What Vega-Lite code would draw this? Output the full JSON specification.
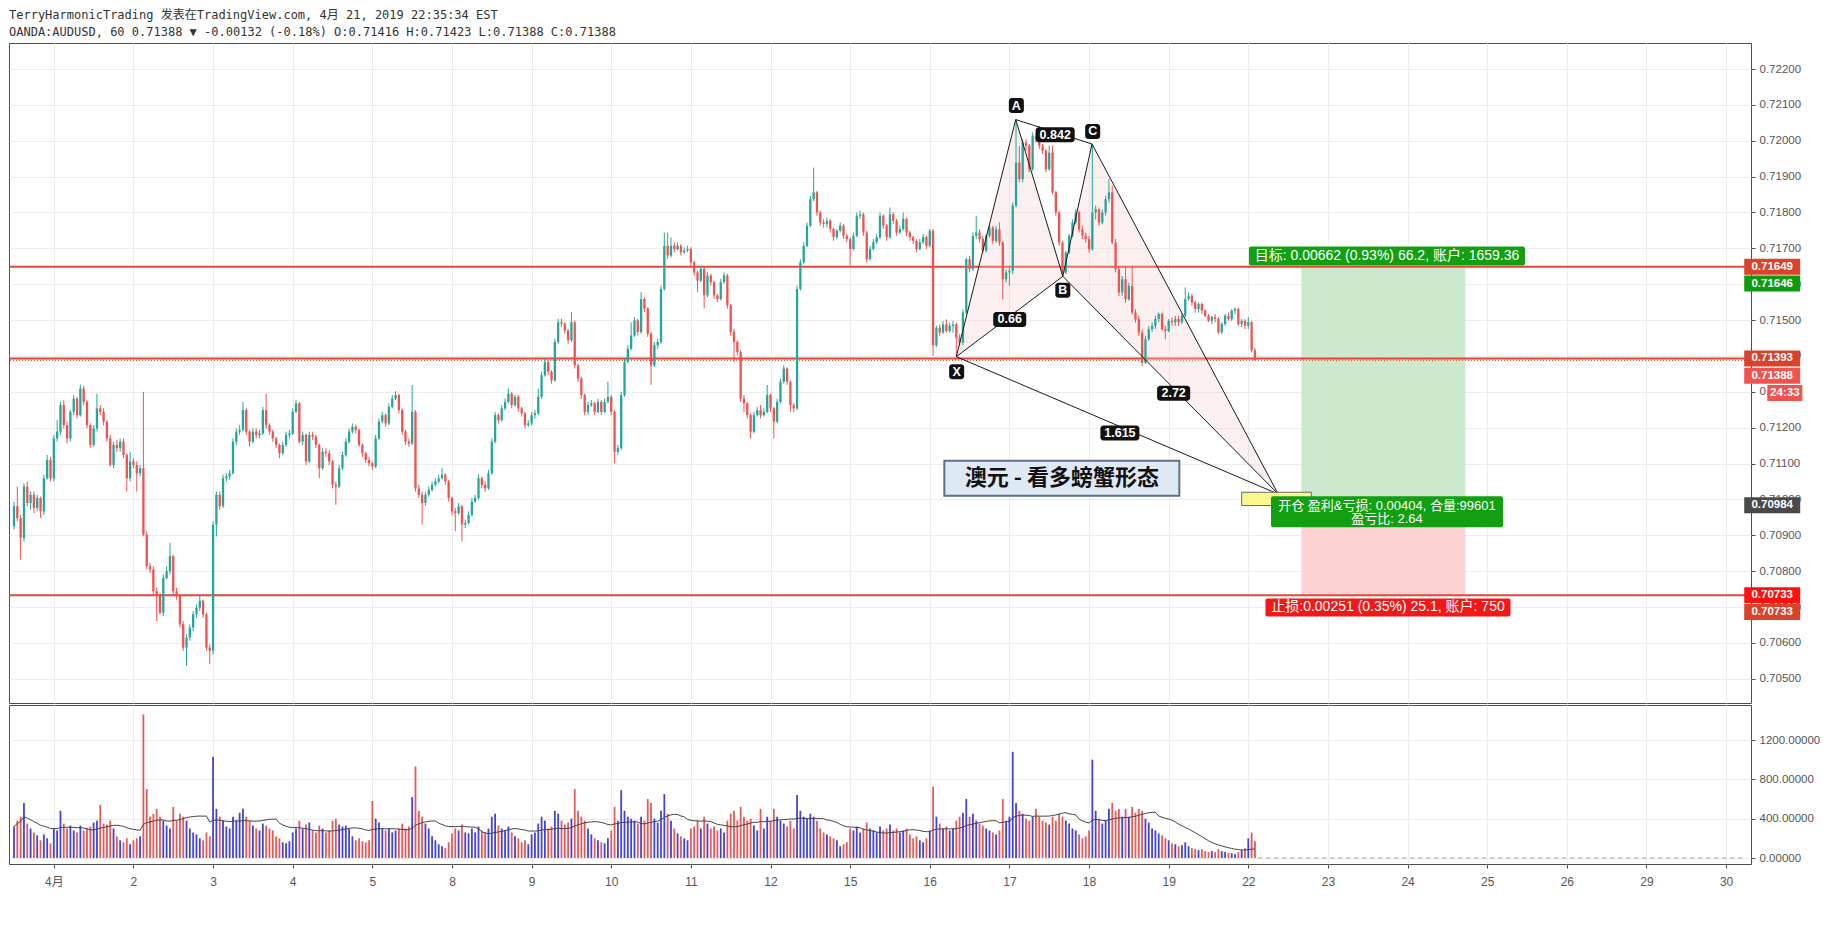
{
"$schema":"https://vega.github.io/schema/vega-lite/v6.json",
"background":"white",
"padding":{"left":7,"top":8,"right":0,"bottom":0},
"title":{"text":"TerryHarmonicTrading 发表在TradingView.com, 4月 21, 2019 22:35:34 EST","subtitle":"OANDA:AUDUSD, 60 0.71388 ▼ -0.00132 (-0.18%) O:0.71416 H:0.71423 L:0.71388 C:0.71388","anchor":"start","frame":"group","font":"DejaVu Sans Mono, Noto Sans CJK SC","fontSize":12,"fontWeight":"normal","color":"#333333","subtitleFont":"DejaVu Sans Mono, Noto Sans CJK SC","subtitleFontSize":12,"subtitleColor":"#333333","subtitlePadding":5,"offset":4},
"config":{"view":{"stroke":"#4d4d4d","strokeWidth":1},"axis":{"labelFont":"Liberation Sans","labelColor":"#555555","labelFontSize":11.5,"gridColor":"#ececec","tickColor":"#4d4d4d","domainColor":"#4d4d4d","labelOverlap":false}},
"datasets":{"candles":[
{"i":0,"o":0.70925,"h":0.70994,"l":0.70916,"c":0.70981,"v":320},
{"i":1,"o":0.70981,"h":0.71036,"l":0.70939,"c":0.70948,"v":380},
{"i":2,"o":0.70948,"h":0.70957,"l":0.70832,"c":0.70893,"v":420},
{"i":3,"o":0.70893,"h":0.71045,"l":0.70883,"c":0.71036,"v":560},
{"i":4,"o":0.71036,"h":0.71050,"l":0.70981,"c":0.70990,"v":350},
{"i":5,"o":0.70990,"h":0.71022,"l":0.70971,"c":0.71013,"v":300},
{"i":6,"o":0.71013,"h":0.71022,"l":0.70962,"c":0.70976,"v":260},
{"i":7,"o":0.70976,"h":0.71013,"l":0.70967,"c":0.71004,"v":230},
{"i":8,"o":0.71004,"h":0.71008,"l":0.70948,"c":0.70967,"v":180},
{"i":9,"o":0.70967,"h":0.71069,"l":0.70957,"c":0.71059,"v":240},
{"i":10,"o":0.71059,"h":0.71124,"l":0.71055,"c":0.71110,"v":200},
{"i":11,"o":0.71110,"h":0.71119,"l":0.71050,"c":0.71059,"v":150},
{"i":12,"o":0.71059,"h":0.71180,"l":0.71050,"c":0.71170,"v":300},
{"i":13,"o":0.71170,"h":0.71221,"l":0.71161,"c":0.71189,"v":280},
{"i":14,"o":0.71189,"h":0.71272,"l":0.71180,"c":0.71263,"v":480},
{"i":15,"o":0.71263,"h":0.71277,"l":0.71198,"c":0.71207,"v":350},
{"i":16,"o":0.71207,"h":0.71217,"l":0.71156,"c":0.71170,"v":300},
{"i":17,"o":0.71170,"h":0.71249,"l":0.71161,"c":0.71244,"v":330},
{"i":18,"o":0.71244,"h":0.71291,"l":0.71235,"c":0.71281,"v":280},
{"i":19,"o":0.71281,"h":0.71286,"l":0.71226,"c":0.71235,"v":260},
{"i":20,"o":0.71235,"h":0.71320,"l":0.71231,"c":0.71309,"v":330},
{"i":21,"o":0.71309,"h":0.71317,"l":0.71263,"c":0.71272,"v":280},
{"i":22,"o":0.71272,"h":0.71277,"l":0.71198,"c":0.71207,"v":300},
{"i":23,"o":0.71207,"h":0.71212,"l":0.71143,"c":0.71152,"v":320},
{"i":24,"o":0.71152,"h":0.71207,"l":0.71147,"c":0.71198,"v":360},
{"i":25,"o":0.71198,"h":0.71295,"l":0.71189,"c":0.71254,"v":380},
{"i":26,"o":0.71254,"h":0.71263,"l":0.71235,"c":0.71244,"v":540},
{"i":27,"o":0.71244,"h":0.71254,"l":0.71207,"c":0.71217,"v":350},
{"i":28,"o":0.71217,"h":0.71221,"l":0.71161,"c":0.71170,"v":340},
{"i":29,"o":0.71170,"h":0.71180,"l":0.71092,"c":0.71096,"v":380},
{"i":30,"o":0.71096,"h":0.71161,"l":0.71087,"c":0.71152,"v":300},
{"i":31,"o":0.71152,"h":0.71166,"l":0.71133,"c":0.71143,"v":220},
{"i":32,"o":0.71143,"h":0.71170,"l":0.71133,"c":0.71161,"v":180},
{"i":33,"o":0.71161,"h":0.71170,"l":0.71115,"c":0.71124,"v":160},
{"i":34,"o":0.71124,"h":0.71129,"l":0.71022,"c":0.71059,"v":200},
{"i":35,"o":0.71059,"h":0.71133,"l":0.71050,"c":0.71106,"v":140},
{"i":36,"o":0.71106,"h":0.71115,"l":0.71087,"c":0.71096,"v":180},
{"i":37,"o":0.71096,"h":0.71106,"l":0.71022,"c":0.71073,"v":200},
{"i":38,"o":0.71073,"h":0.71096,"l":0.71064,"c":0.71087,"v":220},
{"i":39,"o":0.71087,"h":0.71300,"l":0.70897,"c":0.70902,"v":1460},
{"i":40,"o":0.70902,"h":0.70911,"l":0.70805,"c":0.70814,"v":700},
{"i":41,"o":0.70814,"h":0.70823,"l":0.70795,"c":0.70805,"v":420},
{"i":42,"o":0.70805,"h":0.70814,"l":0.70735,"c":0.70744,"v":450},
{"i":43,"o":0.70744,"h":0.70754,"l":0.70661,"c":0.70731,"v":500},
{"i":44,"o":0.70731,"h":0.70740,"l":0.70680,"c":0.70684,"v":420},
{"i":45,"o":0.70684,"h":0.70791,"l":0.70675,"c":0.70781,"v":380},
{"i":46,"o":0.70781,"h":0.70814,"l":0.70777,"c":0.70800,"v":330},
{"i":47,"o":0.70800,"h":0.70879,"l":0.70791,"c":0.70842,"v":300},
{"i":48,"o":0.70842,"h":0.70846,"l":0.70735,"c":0.70744,"v":520},
{"i":49,"o":0.70744,"h":0.70754,"l":0.70721,"c":0.70731,"v":380},
{"i":50,"o":0.70731,"h":0.70735,"l":0.70643,"c":0.70652,"v":450},
{"i":51,"o":0.70652,"h":0.70661,"l":0.70578,"c":0.70587,"v":420},
{"i":52,"o":0.70587,"h":0.70624,"l":0.70536,"c":0.70615,"v":380},
{"i":53,"o":0.70615,"h":0.70652,"l":0.70606,"c":0.70643,"v":300},
{"i":54,"o":0.70643,"h":0.70689,"l":0.70633,"c":0.70680,"v":260},
{"i":55,"o":0.70680,"h":0.70707,"l":0.70670,"c":0.70698,"v":240},
{"i":56,"o":0.70698,"h":0.70735,"l":0.70689,"c":0.70717,"v":200},
{"i":57,"o":0.70717,"h":0.70721,"l":0.70670,"c":0.70680,"v":180},
{"i":58,"o":0.70680,"h":0.70684,"l":0.70578,"c":0.70587,"v":260},
{"i":59,"o":0.70587,"h":0.70596,"l":0.70541,"c":0.70578,"v":220},
{"i":60,"o":0.70578,"h":0.70939,"l":0.70568,"c":0.70930,"v":1030},
{"i":61,"o":0.70930,"h":0.71022,"l":0.70897,"c":0.71013,"v":500},
{"i":62,"o":0.71013,"h":0.71022,"l":0.70971,"c":0.70981,"v":420},
{"i":63,"o":0.70981,"h":0.71069,"l":0.70976,"c":0.71059,"v":380},
{"i":64,"o":0.71059,"h":0.71073,"l":0.71050,"c":0.71064,"v":320},
{"i":65,"o":0.71064,"h":0.71082,"l":0.71055,"c":0.71073,"v":300},
{"i":66,"o":0.71073,"h":0.71170,"l":0.71069,"c":0.71161,"v":420},
{"i":67,"o":0.71161,"h":0.71198,"l":0.71152,"c":0.71189,"v":380},
{"i":68,"o":0.71189,"h":0.71207,"l":0.71180,"c":0.71194,"v":460},
{"i":69,"o":0.71194,"h":0.71272,"l":0.71189,"c":0.71249,"v":500},
{"i":70,"o":0.71249,"h":0.71254,"l":0.71180,"c":0.71189,"v":420},
{"i":71,"o":0.71189,"h":0.71194,"l":0.71147,"c":0.71161,"v":380},
{"i":72,"o":0.71161,"h":0.71198,"l":0.71156,"c":0.71189,"v":330},
{"i":73,"o":0.71189,"h":0.71198,"l":0.71170,"c":0.71180,"v":300},
{"i":74,"o":0.71180,"h":0.71194,"l":0.71170,"c":0.71184,"v":280},
{"i":75,"o":0.71184,"h":0.71258,"l":0.71180,"c":0.71249,"v":350},
{"i":76,"o":0.71249,"h":0.71295,"l":0.71198,"c":0.71207,"v":330},
{"i":77,"o":0.71207,"h":0.71212,"l":0.71180,"c":0.71189,"v":300},
{"i":78,"o":0.71189,"h":0.71194,"l":0.71161,"c":0.71170,"v":280},
{"i":79,"o":0.71170,"h":0.71175,"l":0.71143,"c":0.71152,"v":220},
{"i":80,"o":0.71152,"h":0.71156,"l":0.71115,"c":0.71129,"v":200},
{"i":81,"o":0.71129,"h":0.71161,"l":0.71124,"c":0.71152,"v":160},
{"i":82,"o":0.71152,"h":0.71189,"l":0.71147,"c":0.71180,"v":150},
{"i":83,"o":0.71180,"h":0.71194,"l":0.71170,"c":0.71184,"v":170},
{"i":84,"o":0.71184,"h":0.71254,"l":0.71180,"c":0.71244,"v":260},
{"i":85,"o":0.71244,"h":0.71277,"l":0.71240,"c":0.71268,"v":300},
{"i":86,"o":0.71268,"h":0.71272,"l":0.71156,"c":0.71161,"v":380},
{"i":87,"o":0.71161,"h":0.71189,"l":0.71152,"c":0.71180,"v":300},
{"i":88,"o":0.71180,"h":0.71184,"l":0.71096,"c":0.71106,"v":340},
{"i":89,"o":0.71106,"h":0.71189,"l":0.71101,"c":0.71180,"v":360},
{"i":90,"o":0.71180,"h":0.71189,"l":0.71166,"c":0.71175,"v":280},
{"i":91,"o":0.71175,"h":0.71180,"l":0.71143,"c":0.71152,"v":260},
{"i":92,"o":0.71152,"h":0.71156,"l":0.71059,"c":0.71087,"v":330},
{"i":93,"o":0.71087,"h":0.71143,"l":0.71082,"c":0.71133,"v":300},
{"i":94,"o":0.71133,"h":0.71143,"l":0.71119,"c":0.71129,"v":260},
{"i":95,"o":0.71129,"h":0.71138,"l":0.71096,"c":0.71106,"v":280},
{"i":96,"o":0.71106,"h":0.71110,"l":0.71031,"c":0.71041,"v":380},
{"i":97,"o":0.71041,"h":0.71050,"l":0.70985,"c":0.71036,"v":400},
{"i":98,"o":0.71036,"h":0.71096,"l":0.71031,"c":0.71087,"v":340},
{"i":99,"o":0.71087,"h":0.71133,"l":0.71082,"c":0.71124,"v":320},
{"i":100,"o":0.71124,"h":0.71170,"l":0.71119,"c":0.71161,"v":330},
{"i":101,"o":0.71161,"h":0.71198,"l":0.71156,"c":0.71189,"v":300},
{"i":102,"o":0.71189,"h":0.71212,"l":0.71184,"c":0.71203,"v":220},
{"i":103,"o":0.71203,"h":0.71209,"l":0.71184,"c":0.71194,"v":180},
{"i":104,"o":0.71194,"h":0.71198,"l":0.71147,"c":0.71152,"v":200},
{"i":105,"o":0.71152,"h":0.71156,"l":0.71119,"c":0.71129,"v":170},
{"i":106,"o":0.71129,"h":0.71133,"l":0.71101,"c":0.71110,"v":160},
{"i":107,"o":0.71110,"h":0.71119,"l":0.71092,"c":0.71101,"v":180},
{"i":108,"o":0.71101,"h":0.71106,"l":0.71082,"c":0.71092,"v":580},
{"i":109,"o":0.71092,"h":0.71180,"l":0.71087,"c":0.71170,"v":400},
{"i":110,"o":0.71170,"h":0.71226,"l":0.71166,"c":0.71217,"v":360},
{"i":111,"o":0.71217,"h":0.71244,"l":0.71212,"c":0.71235,"v":300},
{"i":112,"o":0.71235,"h":0.71240,"l":0.71203,"c":0.71212,"v":280},
{"i":113,"o":0.71212,"h":0.71268,"l":0.71207,"c":0.71258,"v":300},
{"i":114,"o":0.71258,"h":0.71291,"l":0.71254,"c":0.71281,"v":260},
{"i":115,"o":0.71281,"h":0.71302,"l":0.71277,"c":0.71291,"v":280},
{"i":116,"o":0.71291,"h":0.71295,"l":0.71240,"c":0.71249,"v":300},
{"i":117,"o":0.71249,"h":0.71254,"l":0.71180,"c":0.71189,"v":350},
{"i":118,"o":0.71189,"h":0.71194,"l":0.71152,"c":0.71161,"v":300},
{"i":119,"o":0.71161,"h":0.71170,"l":0.71147,"c":0.71156,"v":320},
{"i":120,"o":0.71156,"h":0.71319,"l":0.71152,"c":0.71244,"v":620},
{"i":121,"o":0.71244,"h":0.71249,"l":0.71022,"c":0.71031,"v":930},
{"i":122,"o":0.71031,"h":0.71041,"l":0.71004,"c":0.71013,"v":480},
{"i":123,"o":0.71013,"h":0.71022,"l":0.70930,"c":0.70990,"v":420},
{"i":124,"o":0.70990,"h":0.71022,"l":0.70981,"c":0.71013,"v":350},
{"i":125,"o":0.71013,"h":0.71036,"l":0.71008,"c":0.71027,"v":300},
{"i":126,"o":0.71027,"h":0.71050,"l":0.71022,"c":0.71041,"v":220},
{"i":127,"o":0.71041,"h":0.71059,"l":0.71036,"c":0.71050,"v":180},
{"i":128,"o":0.71050,"h":0.71069,"l":0.71045,"c":0.71059,"v":140},
{"i":129,"o":0.71059,"h":0.71087,"l":0.71055,"c":0.71069,"v":120},
{"i":130,"o":0.71069,"h":0.71073,"l":0.71041,"c":0.71050,"v":100},
{"i":131,"o":0.71050,"h":0.71055,"l":0.70994,"c":0.71004,"v":160},
{"i":132,"o":0.71004,"h":0.71008,"l":0.70957,"c":0.70967,"v":250},
{"i":133,"o":0.70967,"h":0.70976,"l":0.70911,"c":0.70962,"v":300},
{"i":134,"o":0.70962,"h":0.70990,"l":0.70957,"c":0.70981,"v":280},
{"i":135,"o":0.70981,"h":0.70985,"l":0.70883,"c":0.70930,"v":340},
{"i":136,"o":0.70930,"h":0.70944,"l":0.70920,"c":0.70934,"v":260},
{"i":137,"o":0.70934,"h":0.70967,"l":0.70930,"c":0.70957,"v":250},
{"i":138,"o":0.70957,"h":0.71004,"l":0.70953,"c":0.70994,"v":300},
{"i":139,"o":0.70994,"h":0.71013,"l":0.70990,"c":0.71004,"v":260},
{"i":140,"o":0.71004,"h":0.71069,"l":0.70999,"c":0.71059,"v":320},
{"i":141,"o":0.71059,"h":0.71064,"l":0.71031,"c":0.71041,"v":280},
{"i":142,"o":0.71041,"h":0.71050,"l":0.71022,"c":0.71031,"v":260},
{"i":143,"o":0.71031,"h":0.71082,"l":0.71027,"c":0.71073,"v":300},
{"i":144,"o":0.71073,"h":0.71170,"l":0.71069,"c":0.71161,"v":420},
{"i":145,"o":0.71161,"h":0.71244,"l":0.71156,"c":0.71235,"v":450},
{"i":146,"o":0.71235,"h":0.71240,"l":0.71212,"c":0.71221,"v":330},
{"i":147,"o":0.71221,"h":0.71263,"l":0.71217,"c":0.71254,"v":300},
{"i":148,"o":0.71254,"h":0.71281,"l":0.71249,"c":0.71272,"v":280},
{"i":149,"o":0.71272,"h":0.71309,"l":0.71268,"c":0.71295,"v":320},
{"i":150,"o":0.71295,"h":0.71300,"l":0.71254,"c":0.71263,"v":260},
{"i":151,"o":0.71263,"h":0.71291,"l":0.71258,"c":0.71286,"v":220},
{"i":152,"o":0.71286,"h":0.71291,"l":0.71244,"c":0.71254,"v":200},
{"i":153,"o":0.71254,"h":0.71258,"l":0.71231,"c":0.71240,"v":160},
{"i":154,"o":0.71240,"h":0.71244,"l":0.71198,"c":0.71207,"v":180},
{"i":155,"o":0.71207,"h":0.71221,"l":0.71203,"c":0.71212,"v":140},
{"i":156,"o":0.71212,"h":0.71244,"l":0.71207,"c":0.71235,"v":240},
{"i":157,"o":0.71235,"h":0.71249,"l":0.71226,"c":0.71240,"v":260},
{"i":158,"o":0.71240,"h":0.71309,"l":0.71235,"c":0.71286,"v":350},
{"i":159,"o":0.71286,"h":0.71356,"l":0.71281,"c":0.71346,"v":420},
{"i":160,"o":0.71346,"h":0.71393,"l":0.71342,"c":0.71383,"v":380},
{"i":161,"o":0.71383,"h":0.71388,"l":0.71346,"c":0.71356,"v":300},
{"i":162,"o":0.71356,"h":0.71360,"l":0.71323,"c":0.71332,"v":320},
{"i":163,"o":0.71332,"h":0.71448,"l":0.71328,"c":0.71439,"v":480},
{"i":164,"o":0.71439,"h":0.71504,"l":0.71434,"c":0.71494,"v":450},
{"i":165,"o":0.71494,"h":0.71504,"l":0.71481,"c":0.71490,"v":380},
{"i":166,"o":0.71490,"h":0.71494,"l":0.71462,"c":0.71471,"v":340},
{"i":167,"o":0.71471,"h":0.71476,"l":0.71434,"c":0.71444,"v":360},
{"i":168,"o":0.71444,"h":0.71522,"l":0.71439,"c":0.71494,"v":400},
{"i":169,"o":0.71494,"h":0.71499,"l":0.71365,"c":0.71374,"v":700},
{"i":170,"o":0.71374,"h":0.71379,"l":0.71328,"c":0.71337,"v":480},
{"i":171,"o":0.71337,"h":0.71342,"l":0.71281,"c":0.71291,"v":420},
{"i":172,"o":0.71291,"h":0.71295,"l":0.71235,"c":0.71244,"v":380},
{"i":173,"o":0.71244,"h":0.71272,"l":0.71235,"c":0.71263,"v":300},
{"i":174,"o":0.71263,"h":0.71277,"l":0.71258,"c":0.71268,"v":240},
{"i":175,"o":0.71268,"h":0.71272,"l":0.71235,"c":0.71244,"v":200},
{"i":176,"o":0.71244,"h":0.71281,"l":0.71240,"c":0.71272,"v":180},
{"i":177,"o":0.71272,"h":0.71277,"l":0.71235,"c":0.71244,"v":160},
{"i":178,"o":0.71244,"h":0.71281,"l":0.71240,"c":0.71272,"v":150},
{"i":179,"o":0.71272,"h":0.71328,"l":0.71268,"c":0.71286,"v":200},
{"i":180,"o":0.71286,"h":0.71291,"l":0.71235,"c":0.71244,"v":280},
{"i":181,"o":0.71244,"h":0.71249,"l":0.71101,"c":0.71133,"v":520},
{"i":182,"o":0.71133,"h":0.71152,"l":0.71124,"c":0.71143,"v":380},
{"i":183,"o":0.71143,"h":0.71300,"l":0.71138,"c":0.71291,"v":690},
{"i":184,"o":0.71291,"h":0.71393,"l":0.71286,"c":0.71383,"v":480},
{"i":185,"o":0.71383,"h":0.71430,"l":0.71379,"c":0.71420,"v":420},
{"i":186,"o":0.71420,"h":0.71494,"l":0.71416,"c":0.71457,"v":400},
{"i":187,"o":0.71457,"h":0.71508,"l":0.71453,"c":0.71499,"v":380},
{"i":188,"o":0.71499,"h":0.71504,"l":0.71457,"c":0.71467,"v":350},
{"i":189,"o":0.71467,"h":0.71578,"l":0.71462,"c":0.71559,"v":420},
{"i":190,"o":0.71559,"h":0.71564,"l":0.71522,"c":0.71532,"v":380},
{"i":191,"o":0.71532,"h":0.71536,"l":0.71453,"c":0.71462,"v":600},
{"i":192,"o":0.71462,"h":0.71467,"l":0.71319,"c":0.71374,"v":560},
{"i":193,"o":0.71374,"h":0.71439,"l":0.71369,"c":0.71430,"v":400},
{"i":194,"o":0.71430,"h":0.71448,"l":0.71420,"c":0.71439,"v":360},
{"i":195,"o":0.71439,"h":0.71596,"l":0.71434,"c":0.71587,"v":480},
{"i":196,"o":0.71587,"h":0.71744,"l":0.71582,"c":0.71707,"v":650},
{"i":197,"o":0.71707,"h":0.71744,"l":0.71670,"c":0.71680,"v":450},
{"i":198,"o":0.71680,"h":0.71731,"l":0.71675,"c":0.71707,"v":380},
{"i":199,"o":0.71707,"h":0.71717,"l":0.71689,"c":0.71698,"v":300},
{"i":200,"o":0.71698,"h":0.71717,"l":0.71694,"c":0.71707,"v":250},
{"i":201,"o":0.71707,"h":0.71712,"l":0.71680,"c":0.71689,"v":220},
{"i":202,"o":0.71689,"h":0.71703,"l":0.71684,"c":0.71694,"v":200},
{"i":203,"o":0.71694,"h":0.71707,"l":0.71689,"c":0.71698,"v":180},
{"i":204,"o":0.71698,"h":0.71703,"l":0.71652,"c":0.71661,"v":300},
{"i":205,"o":0.71661,"h":0.71666,"l":0.71624,"c":0.71633,"v":320},
{"i":206,"o":0.71633,"h":0.71638,"l":0.71578,"c":0.71610,"v":380},
{"i":207,"o":0.71610,"h":0.71652,"l":0.71606,"c":0.71643,"v":300},
{"i":208,"o":0.71643,"h":0.71647,"l":0.71532,"c":0.71569,"v":420},
{"i":209,"o":0.71569,"h":0.71633,"l":0.71564,"c":0.71624,"v":350},
{"i":210,"o":0.71624,"h":0.71629,"l":0.71596,"c":0.71606,"v":300},
{"i":211,"o":0.71606,"h":0.71610,"l":0.71559,"c":0.71569,"v":320},
{"i":212,"o":0.71569,"h":0.71573,"l":0.71550,"c":0.71559,"v":280},
{"i":213,"o":0.71559,"h":0.71615,"l":0.71555,"c":0.71606,"v":300},
{"i":214,"o":0.71606,"h":0.71633,"l":0.71601,"c":0.71624,"v":260},
{"i":215,"o":0.71624,"h":0.71629,"l":0.71532,"c":0.71541,"v":380},
{"i":216,"o":0.71541,"h":0.71545,"l":0.71457,"c":0.71467,"v":450},
{"i":217,"o":0.71467,"h":0.71476,"l":0.71383,"c":0.71439,"v":480},
{"i":218,"o":0.71439,"h":0.71444,"l":0.71402,"c":0.71411,"v":380},
{"i":219,"o":0.71411,"h":0.71416,"l":0.71272,"c":0.71281,"v":520},
{"i":220,"o":0.71281,"h":0.71291,"l":0.71244,"c":0.71268,"v":420},
{"i":221,"o":0.71268,"h":0.71272,"l":0.71226,"c":0.71235,"v":380},
{"i":222,"o":0.71235,"h":0.71240,"l":0.71170,"c":0.71189,"v":400},
{"i":223,"o":0.71189,"h":0.71244,"l":0.71184,"c":0.71235,"v":330},
{"i":224,"o":0.71235,"h":0.71258,"l":0.71231,"c":0.71249,"v":280},
{"i":225,"o":0.71249,"h":0.71263,"l":0.71226,"c":0.71235,"v":500},
{"i":226,"o":0.71235,"h":0.71254,"l":0.71231,"c":0.71244,"v":300},
{"i":227,"o":0.71244,"h":0.71319,"l":0.71240,"c":0.71291,"v":420},
{"i":228,"o":0.71291,"h":0.71295,"l":0.71244,"c":0.71254,"v":380},
{"i":229,"o":0.71254,"h":0.71258,"l":0.71170,"c":0.71217,"v":500},
{"i":230,"o":0.71217,"h":0.71281,"l":0.71212,"c":0.71272,"v":420},
{"i":231,"o":0.71272,"h":0.71337,"l":0.71268,"c":0.71328,"v":380},
{"i":232,"o":0.71328,"h":0.71374,"l":0.71323,"c":0.71365,"v":350},
{"i":233,"o":0.71365,"h":0.71369,"l":0.71319,"c":0.71328,"v":320},
{"i":234,"o":0.71328,"h":0.71332,"l":0.71244,"c":0.71263,"v":380},
{"i":235,"o":0.71263,"h":0.71268,"l":0.71244,"c":0.71254,"v":300},
{"i":236,"o":0.71254,"h":0.71596,"l":0.71249,"c":0.71587,"v":640},
{"i":237,"o":0.71587,"h":0.71670,"l":0.71582,"c":0.71661,"v":480},
{"i":238,"o":0.71661,"h":0.71717,"l":0.71657,"c":0.71707,"v":420},
{"i":239,"o":0.71707,"h":0.71772,"l":0.71703,"c":0.71763,"v":400},
{"i":240,"o":0.71763,"h":0.71846,"l":0.71758,"c":0.71837,"v":450},
{"i":241,"o":0.71837,"h":0.71925,"l":0.71832,"c":0.71856,"v":420},
{"i":242,"o":0.71856,"h":0.71860,"l":0.71791,"c":0.71800,"v":380},
{"i":243,"o":0.71800,"h":0.71805,"l":0.71763,"c":0.71772,"v":300},
{"i":244,"o":0.71772,"h":0.71782,"l":0.71758,"c":0.71768,"v":260},
{"i":245,"o":0.71768,"h":0.71786,"l":0.71758,"c":0.71777,"v":240},
{"i":246,"o":0.71777,"h":0.71782,"l":0.71744,"c":0.71754,"v":220},
{"i":247,"o":0.71754,"h":0.71758,"l":0.71721,"c":0.71731,"v":200},
{"i":248,"o":0.71731,"h":0.71754,"l":0.71726,"c":0.71749,"v":180},
{"i":249,"o":0.71749,"h":0.71772,"l":0.71744,"c":0.71763,"v":120},
{"i":250,"o":0.71763,"h":0.71768,"l":0.71726,"c":0.71735,"v":140},
{"i":251,"o":0.71735,"h":0.71740,"l":0.71717,"c":0.71726,"v":160},
{"i":252,"o":0.71726,"h":0.71731,"l":0.71652,"c":0.71698,"v":300},
{"i":253,"o":0.71698,"h":0.71744,"l":0.71694,"c":0.71735,"v":280},
{"i":254,"o":0.71735,"h":0.71800,"l":0.71731,"c":0.71791,"v":320},
{"i":255,"o":0.71791,"h":0.71805,"l":0.71782,"c":0.71795,"v":260},
{"i":256,"o":0.71795,"h":0.71800,"l":0.71735,"c":0.71744,"v":300},
{"i":257,"o":0.71744,"h":0.71749,"l":0.71661,"c":0.71670,"v":360},
{"i":258,"o":0.71670,"h":0.71707,"l":0.71666,"c":0.71698,"v":300},
{"i":259,"o":0.71698,"h":0.71726,"l":0.71694,"c":0.71717,"v":280},
{"i":260,"o":0.71717,"h":0.71740,"l":0.71712,"c":0.71731,"v":260},
{"i":261,"o":0.71731,"h":0.71800,"l":0.71726,"c":0.71791,"v":320},
{"i":262,"o":0.71791,"h":0.71795,"l":0.71754,"c":0.71763,"v":280},
{"i":263,"o":0.71763,"h":0.71768,"l":0.71721,"c":0.71731,"v":300},
{"i":264,"o":0.71731,"h":0.71814,"l":0.71726,"c":0.71795,"v":340},
{"i":265,"o":0.71795,"h":0.71800,"l":0.71768,"c":0.71777,"v":280},
{"i":266,"o":0.71777,"h":0.71782,"l":0.71735,"c":0.71744,"v":300},
{"i":267,"o":0.71744,"h":0.71763,"l":0.71740,"c":0.71754,"v":260},
{"i":268,"o":0.71754,"h":0.71800,"l":0.71749,"c":0.71782,"v":280},
{"i":269,"o":0.71782,"h":0.71786,"l":0.71735,"c":0.71744,"v":300},
{"i":270,"o":0.71744,"h":0.71749,"l":0.71721,"c":0.71731,"v":240},
{"i":271,"o":0.71731,"h":0.71735,"l":0.71712,"c":0.71721,"v":200},
{"i":272,"o":0.71721,"h":0.71726,"l":0.71689,"c":0.71698,"v":220},
{"i":273,"o":0.71698,"h":0.71726,"l":0.71694,"c":0.71717,"v":180},
{"i":274,"o":0.71717,"h":0.71740,"l":0.71712,"c":0.71731,"v":160},
{"i":275,"o":0.71731,"h":0.71735,"l":0.71698,"c":0.71707,"v":200},
{"i":276,"o":0.71707,"h":0.71754,"l":0.71703,"c":0.71749,"v":280},
{"i":277,"o":0.71749,"h":0.71754,"l":0.71400,"c":0.71430,"v":725},
{"i":278,"o":0.71430,"h":0.71484,"l":0.71425,"c":0.71479,"v":420},
{"i":279,"o":0.71479,"h":0.71488,"l":0.71456,"c":0.71465,"v":350},
{"i":280,"o":0.71465,"h":0.71498,"l":0.71461,"c":0.71488,"v":300},
{"i":281,"o":0.71488,"h":0.71502,"l":0.71465,"c":0.71470,"v":320},
{"i":282,"o":0.71470,"h":0.71493,"l":0.71465,"c":0.71484,"v":280},
{"i":283,"o":0.71484,"h":0.71498,"l":0.71465,"c":0.71488,"v":300},
{"i":284,"o":0.71488,"h":0.71493,"l":0.71398,"c":0.71451,"v":380},
{"i":285,"o":0.71451,"h":0.71461,"l":0.71428,"c":0.71437,"v":420},
{"i":286,"o":0.71437,"h":0.71530,"l":0.71430,"c":0.71521,"v":460},
{"i":287,"o":0.71521,"h":0.71674,"l":0.71516,"c":0.71670,"v":600},
{"i":288,"o":0.71670,"h":0.71679,"l":0.71633,"c":0.71642,"v":420},
{"i":289,"o":0.71642,"h":0.71744,"l":0.71637,"c":0.71735,"v":450},
{"i":290,"o":0.71735,"h":0.71791,"l":0.71726,"c":0.71744,"v":380},
{"i":291,"o":0.71744,"h":0.71753,"l":0.71716,"c":0.71726,"v":350},
{"i":292,"o":0.71726,"h":0.71735,"l":0.71688,"c":0.71693,"v":330},
{"i":293,"o":0.71693,"h":0.71740,"l":0.71688,"c":0.71735,"v":300},
{"i":294,"o":0.71735,"h":0.71767,"l":0.71730,"c":0.71758,"v":280},
{"i":295,"o":0.71758,"h":0.71763,"l":0.71712,"c":0.71721,"v":260},
{"i":296,"o":0.71721,"h":0.71763,"l":0.71716,"c":0.71753,"v":240},
{"i":297,"o":0.71753,"h":0.71772,"l":0.71707,"c":0.71716,"v":280},
{"i":298,"o":0.71716,"h":0.71721,"l":0.71558,"c":0.71614,"v":600},
{"i":299,"o":0.71614,"h":0.71642,"l":0.71605,"c":0.71633,"v":380},
{"i":300,"o":0.71633,"h":0.71647,"l":0.71595,"c":0.71637,"v":420},
{"i":301,"o":0.71637,"h":0.71828,"l":0.71628,"c":0.71819,"v":1080},
{"i":302,"o":0.71819,"h":0.72059,"l":0.71814,"c":0.71939,"v":560},
{"i":303,"o":0.71939,"h":0.71986,"l":0.71884,"c":0.71893,"v":480},
{"i":304,"o":0.71893,"h":0.72005,"l":0.71884,"c":0.71995,"v":450},
{"i":305,"o":0.71995,"h":0.72005,"l":0.71972,"c":0.71986,"v":400},
{"i":306,"o":0.71986,"h":0.71991,"l":0.71912,"c":0.71921,"v":380},
{"i":307,"o":0.71921,"h":0.72023,"l":0.71916,"c":0.72014,"v":420},
{"i":308,"o":0.72014,"h":0.72023,"l":0.71995,"c":0.72005,"v":500},
{"i":309,"o":0.72005,"h":0.72042,"l":0.71977,"c":0.71986,"v":420},
{"i":310,"o":0.71986,"h":0.71991,"l":0.71963,"c":0.71972,"v":380},
{"i":311,"o":0.71972,"h":0.71977,"l":0.71912,"c":0.71921,"v":360},
{"i":312,"o":0.71921,"h":0.71986,"l":0.71916,"c":0.71967,"v":340},
{"i":313,"o":0.71967,"h":0.71986,"l":0.71851,"c":0.71856,"v":420},
{"i":314,"o":0.71856,"h":0.71860,"l":0.71791,"c":0.71800,"v":380},
{"i":315,"o":0.71800,"h":0.71805,"l":0.71707,"c":0.71716,"v":450},
{"i":316,"o":0.71716,"h":0.71721,"l":0.71621,"c":0.71633,"v":420},
{"i":317,"o":0.71633,"h":0.71693,"l":0.71628,"c":0.71688,"v":380},
{"i":318,"o":0.71688,"h":0.71740,"l":0.71684,"c":0.71735,"v":350},
{"i":319,"o":0.71735,"h":0.71781,"l":0.71730,"c":0.71772,"v":300},
{"i":320,"o":0.71772,"h":0.71809,"l":0.71767,"c":0.71800,"v":280},
{"i":321,"o":0.71800,"h":0.71805,"l":0.71744,"c":0.71753,"v":240},
{"i":322,"o":0.71753,"h":0.71763,"l":0.71726,"c":0.71735,"v":200},
{"i":323,"o":0.71735,"h":0.71744,"l":0.71716,"c":0.71726,"v":220},
{"i":324,"o":0.71726,"h":0.71735,"l":0.71688,"c":0.71698,"v":280},
{"i":325,"o":0.71698,"h":0.71991,"l":0.71693,"c":0.71800,"v":1000},
{"i":326,"o":0.71800,"h":0.71819,"l":0.71781,"c":0.71809,"v":480},
{"i":327,"o":0.71809,"h":0.71814,"l":0.71763,"c":0.71772,"v":400},
{"i":328,"o":0.71772,"h":0.71809,"l":0.71767,"c":0.71800,"v":350},
{"i":329,"o":0.71800,"h":0.71846,"l":0.71791,"c":0.71837,"v":380},
{"i":330,"o":0.71837,"h":0.71893,"l":0.71828,"c":0.71856,"v":500},
{"i":331,"o":0.71856,"h":0.71874,"l":0.71712,"c":0.71716,"v":560},
{"i":332,"o":0.71716,"h":0.71726,"l":0.71633,"c":0.71642,"v":480},
{"i":333,"o":0.71642,"h":0.71651,"l":0.71567,"c":0.71577,"v":500},
{"i":334,"o":0.71577,"h":0.71623,"l":0.71567,"c":0.71614,"v":420},
{"i":335,"o":0.71614,"h":0.71651,"l":0.71549,"c":0.71558,"v":500},
{"i":336,"o":0.71558,"h":0.71605,"l":0.71554,"c":0.71595,"v":420},
{"i":337,"o":0.71595,"h":0.71651,"l":0.71516,"c":0.71521,"v":520},
{"i":338,"o":0.71521,"h":0.71530,"l":0.71493,"c":0.71502,"v":460},
{"i":339,"o":0.71502,"h":0.71512,"l":0.71456,"c":0.71465,"v":500},
{"i":340,"o":0.71465,"h":0.71474,"l":0.71372,"c":0.71381,"v":480},
{"i":341,"o":0.71381,"h":0.71456,"l":0.71377,"c":0.71447,"v":400},
{"i":342,"o":0.71447,"h":0.71484,"l":0.71442,"c":0.71475,"v":360},
{"i":343,"o":0.71475,"h":0.71494,"l":0.71466,"c":0.71484,"v":300},
{"i":344,"o":0.71484,"h":0.71512,"l":0.71475,"c":0.71503,"v":280},
{"i":345,"o":0.71503,"h":0.71521,"l":0.71494,"c":0.71517,"v":250},
{"i":346,"o":0.71517,"h":0.71521,"l":0.71470,"c":0.71475,"v":230},
{"i":347,"o":0.71475,"h":0.71484,"l":0.71447,"c":0.71470,"v":200},
{"i":348,"o":0.71470,"h":0.71503,"l":0.71466,"c":0.71498,"v":180},
{"i":349,"o":0.71498,"h":0.71508,"l":0.71484,"c":0.71494,"v":150},
{"i":350,"o":0.71494,"h":0.71512,"l":0.71484,"c":0.71503,"v":140},
{"i":351,"o":0.71503,"h":0.71512,"l":0.71484,"c":0.71494,"v":120},
{"i":352,"o":0.71494,"h":0.71517,"l":0.71489,"c":0.71512,"v":130},
{"i":353,"o":0.71512,"h":0.71591,"l":0.71508,"c":0.71559,"v":160},
{"i":354,"o":0.71559,"h":0.71577,"l":0.71554,"c":0.71568,"v":120},
{"i":355,"o":0.71568,"h":0.71573,"l":0.71540,"c":0.71549,"v":100},
{"i":356,"o":0.71549,"h":0.71554,"l":0.71521,"c":0.71531,"v":90},
{"i":357,"o":0.71531,"h":0.71549,"l":0.71521,"c":0.71545,"v":80},
{"i":358,"o":0.71545,"h":0.71549,"l":0.71517,"c":0.71526,"v":90},
{"i":359,"o":0.71526,"h":0.71531,"l":0.71508,"c":0.71512,"v":70},
{"i":360,"o":0.71512,"h":0.71517,"l":0.71494,"c":0.71498,"v":60},
{"i":361,"o":0.71498,"h":0.71512,"l":0.71489,"c":0.71508,"v":70},
{"i":362,"o":0.71508,"h":0.71517,"l":0.71494,"c":0.71503,"v":60},
{"i":363,"o":0.71503,"h":0.71508,"l":0.71461,"c":0.71466,"v":90},
{"i":364,"o":0.71466,"h":0.71494,"l":0.71461,"c":0.71489,"v":70},
{"i":365,"o":0.71489,"h":0.71517,"l":0.71484,"c":0.71512,"v":60},
{"i":366,"o":0.71512,"h":0.71521,"l":0.71498,"c":0.71503,"v":50},
{"i":367,"o":0.71503,"h":0.71531,"l":0.71498,"c":0.71526,"v":50},
{"i":368,"o":0.71526,"h":0.71535,"l":0.71517,"c":0.71531,"v":40},
{"i":369,"o":0.71531,"h":0.71535,"l":0.71484,"c":0.71489,"v":60},
{"i":370,"o":0.71489,"h":0.71503,"l":0.71480,"c":0.71498,"v":80},
{"i":371,"o":0.71498,"h":0.71503,"l":0.71475,"c":0.71484,"v":100},
{"i":372,"o":0.71484,"h":0.71508,"l":0.71475,"c":0.71494,"v":200},
{"i":373,"o":0.71494,"h":0.71498,"l":0.71410,"c":0.71416,"v":260},
{"i":374,"o":0.71416,"h":0.71423,"l":0.71388,"c":0.71388,"v":170}
]},
"vconcat":[
{"width":1742,"height":660,
"resolve":{"scale":{"color":"independent","fill":"independent"}},
"layer":[
{"data":{"values":[{"a":388,"b":437.4,"lo":0.70984,"hi":0.71649,"k":"tp"},{"a":388,"b":437.4,"lo":0.70733,"hi":0.70984,"k":"sl"}]},
"mark":{"type":"rect"},
"encoding":{"x":{"field":"a","type":"quantitative","scale":{"domain":[0,522],"nice":false,"zero":false},"axis":{"values":[12,36,60,84,108,132,156,180,204,228,252,276,300,324,348,372,396,420,444,468,492,516],"tickCount":60,"labels":false,"ticks":false,"domain":false,"grid":true,"title":null}},
"x2":{"field":"b"},
"y":{"field":"lo","type":"quantitative","scale":{"domain":[0.704325,0.722725],"nice":false,"zero":false},"axis":{"orient":"right","values":[0.705,0.706,0.707,0.708,0.709,0.71,0.711,0.712,0.713,0.714,0.715,0.716,0.717,0.718,0.719,0.72,0.721,0.722],"tickCount":40,"format":".5f","grid":true,"domain":false,"tickSize":4,"labelPadding":4,"labelOverlap":false,"title":null}},
"y2":{"field":"hi"},
"fill":{"field":"k","type":"nominal","scale":{"domain":["tp","sl"],"range":["#cde9cd","#fdd2d2"]},"legend":null}}},
{"data":{"values":[{"p":0.71649},{"p":0.71393},{"p":0.70733}]},
"mark":{"type":"rule","color":"#df4a36","strokeWidth":2},
"encoding":{"y":{"field":"p","type":"quantitative","title":null}}},
{"data":{"values":[{"p":0.71388}]},
"mark":{"type":"rule","color":"#ef5350","strokeWidth":1.5,"strokeDash":[1,2]},
"encoding":{"y":{"field":"p","type":"quantitative","title":null}}},
{"data":{"values":[{"tri":1,"i":284,"y":0.71398,"y2":0.71398},{"tri":1,"i":301.9,"y":0.72059,"y2":0.71523},{"tri":1,"i":316.1,"y":0.71622,"y2":0.71622},{"tri":2,"i":316.1,"y":0.71622,"y2":0.71622},{"tri":2,"i":324.9,"y":0.71991,"y2":0.71540},{"tri":2,"i":381,"y":0.71015,"y2":0.71015}]},
"mark":{"type":"area","color":"#f5c9c9","opacity":0.3},
"encoding":{"x":{"field":"i","type":"quantitative","title":null},"y":{"field":"y","type":"quantitative","title":null},"y2":{"field":"y2"},"detail":{"field":"tri","type":"nominal"}}},
{"data":{"name":"candles"},
"mark":{"type":"rule","strokeWidth":1},
"encoding":{"x":{"field":"i","type":"quantitative","title":null},"y":{"field":"l","type":"quantitative","title":null},"y2":{"field":"h"},
"color":{"condition":{"test":"datum.c >= datum.o","value":"#26a69a"},"value":"#ef5350"}}},
{"data":{"name":"candles"},
"mark":{"type":"bar","width":2.3},
"encoding":{"x":{"field":"i","type":"quantitative","title":null},"y":{"field":"o","type":"quantitative","title":null},"y2":{"field":"c"},
"color":{"condition":{"test":"datum.c >= datum.o","value":"#26a69a"},"value":"#ef5350"}}},
{"data":{"values":[{"a":284,"pa":0.71398,"b":301.9,"pb":0.72059},{"a":301.9,"pa":0.72059,"b":316.1,"pb":0.71622},{"a":284,"pa":0.71398,"b":316.1,"pb":0.71622},{"a":316.1,"pa":0.71622,"b":324.9,"pb":0.71991},{"a":324.9,"pa":0.71991,"b":381,"pb":0.71015},{"a":316.1,"pa":0.71622,"b":381,"pb":0.71015},{"a":284,"pa":0.71398,"b":381,"pb":0.71015},{"a":301.9,"pa":0.72059,"b":324.9,"pb":0.71991}]},
"mark":{"type":"rule","color":"#1a1a1a","strokeWidth":1},
"encoding":{"x":{"field":"a","type":"quantitative","title":null},"x2":{"field":"b"},"y":{"field":"pa","type":"quantitative","title":null},"y2":{"field":"pb"}}},
{"data":{"values":[{"a":370,"b":391,"lo":0.70983,"hi":0.71020}]},
"mark":{"type":"rect","fill":"#f8f88e","stroke":"#6a6a6a","strokeWidth":1},
"encoding":{"x":{"field":"a","type":"quantitative","title":null},"x2":{"field":"b"},"y":{"field":"lo","type":"quantitative","title":null},"y2":{"field":"hi"}}},
{"data":{"values":[{"t":"A","i":302.1,"p":0.72098},{"t":"C","i":325.1,"p":0.72026},{"t":"B","i":316.1,"p":0.71583},{"t":"X","i":284.1,"p":0.71356}]},
"layer":[
{"mark":{"type":"rect","width":15,"height":15,"cornerRadius":3,"color":"#111111"},
"encoding":{"x":{"field":"i","type":"quantitative","title":null},"y":{"field":"p","type":"quantitative","title":null}}},
{"mark":{"type":"text","color":"white","font":"Liberation Sans","fontSize":12.5,"fontWeight":"bold","align":"center","baseline":"middle"},
"encoding":{"x":{"field":"i","type":"quantitative","title":null},"y":{"field":"p","type":"quantitative","title":null},"text":{"field":"t"}}}]},
{"data":{"values":[{"t":"0.66","i":300.1,"p":0.71502,"w":"s"},{"t":"0.842","i":313.8,"p":0.72017,"w":"l"},{"t":"2.72","i":349.5,"p":0.71296,"w":"s"},{"t":"1.615","i":333.3,"p":0.71185,"w":"l"}]},
"layer":[
{"transform":[{"filter":"datum.w == 's'"}],"mark":{"type":"rect","width":33,"height":15,"cornerRadius":3,"color":"#111111"},
"encoding":{"x":{"field":"i","type":"quantitative","title":null},"y":{"field":"p","type":"quantitative","title":null}}},
{"transform":[{"filter":"datum.w == 'l'"}],"mark":{"type":"rect","width":39,"height":15,"cornerRadius":3,"color":"#111111"},
"encoding":{"x":{"field":"i","type":"quantitative","title":null},"y":{"field":"p","type":"quantitative","title":null}}},
{"mark":{"type":"text","color":"white","font":"Liberation Sans","fontSize":12.5,"fontWeight":"bold","align":"center","baseline":"middle"},
"encoding":{"x":{"field":"i","type":"quantitative","title":null},"y":{"field":"p","type":"quantitative","title":null},"text":{"field":"t"}}}]},
{"data":{"values":[{"t":"目标: 0.00662 (0.93%) 66.2, 账户: 1659.36","i":413.8,"p":0.71679}]},
"layer":[
{"mark":{"type":"rect","width":276,"height":19,"cornerRadius":2,"color":"#12a012"},
"encoding":{"x":{"field":"i","type":"quantitative","title":null},"y":{"field":"p","type":"quantitative","title":null}}},
{"mark":{"type":"text","color":"white","font":"Liberation Sans, Noto Sans CJK SC","fontSize":14,"align":"center","baseline":"middle"},
"encoding":{"x":{"field":"i","type":"quantitative","title":null},"y":{"field":"p","type":"quantitative","title":null},"text":{"field":"t"}}}]},
{"data":{"values":[{"t":["开仓 盈利&亏损: 0.00404, 合量:99601","盈亏比: 2.64"],"i":413.8,"p":0.70966}]},
"layer":[
{"mark":{"type":"rect","width":232,"height":31,"cornerRadius":2,"color":"#12a012"},
"encoding":{"x":{"field":"i","type":"quantitative","title":null},"y":{"field":"p","type":"quantitative","title":null}}},
{"mark":{"type":"text","color":"white","font":"Liberation Sans, Noto Sans CJK SC","fontSize":13,"lineHeight":13,"align":"center","baseline":"middle","dy":-6},
"encoding":{"x":{"field":"i","type":"quantitative","title":null},"y":{"field":"p","type":"quantitative","title":null},"text":{"field":"t"}}}]},
{"data":{"values":[{"t":"止损:0.00251 (0.35%) 25.1, 账户: 750","i":414.1,"p":0.70699}]},
"layer":[
{"mark":{"type":"rect","width":245,"height":18,"cornerRadius":2,"color":"#f21818"},
"encoding":{"x":{"field":"i","type":"quantitative","title":null},"y":{"field":"p","type":"quantitative","title":null}}},
{"mark":{"type":"text","color":"white","font":"Liberation Sans, Noto Sans CJK SC","fontSize":14,"align":"center","baseline":"middle"},
"encoding":{"x":{"field":"i","type":"quantitative","title":null},"y":{"field":"p","type":"quantitative","title":null},"text":{"field":"t"}}}]},
{"data":{"values":[{"t":"澳元 - 看多螃蟹形态","i":315.8,"p":0.71059}]},
"layer":[
{"mark":{"type":"rect","width":235,"height":35,"fill":"#dfe9f3","stroke":"#5f7282","strokeWidth":2},
"encoding":{"x":{"field":"i","type":"quantitative","title":null},"y":{"field":"p","type":"quantitative","title":null}}},
{"mark":{"type":"text","color":"#111111","font":"Noto Sans CJK SC","fontSize":22,"fontWeight":"bold","align":"center","baseline":"middle"},
"encoding":{"x":{"field":"i","type":"quantitative","title":null},"y":{"field":"p","type":"quantitative","title":null},"text":{"field":"t"}}}]},
{"data":{"values":[{"p":0.71649,"t":"0.71649","k":"line"},{"p":0.71602,"t":"0.71646","k":"tp"},{"p":0.71393,"t":"0.71393","k":"line"},{"p":0.71345,"t":"0.71388","k":"cur"},{"p":0.70984,"t":"0.70984","k":"entry"},{"p":0.70733,"t":"0.70733","k":"sl"},{"p":0.70686,"t":"0.70733","k":"line"}]},
"layer":[
{"mark":{"type":"rect","width":56,"height":16},
"encoding":{"x":{"datum":529.9,"type":"quantitative","title":null},"y":{"field":"p","type":"quantitative","title":null},
"color":{"field":"k","type":"nominal","scale":{"domain":["line","tp","cur","entry","sl"],"range":["#d9432b","#0f9b0f","#ef5350","#4a4a4a","#ff1010"]},"legend":null}}},
{"mark":{"type":"text","color":"white","font":"Liberation Sans","fontSize":11.5,"fontWeight":"bold","align":"center","baseline":"middle"},
"encoding":{"x":{"datum":529.9,"type":"quantitative","title":null},"y":{"field":"p","type":"quantitative","title":null},"text":{"field":"t"}}}]},
{"data":{"values":[{"p":0.71297,"t":"24:33"}]},
"layer":[
{"mark":{"type":"rect","width":35,"height":16,"color":"#ef5350"},
"encoding":{"x":{"datum":533.7,"type":"quantitative","title":null},"y":{"field":"p","type":"quantitative","title":null}}},
{"mark":{"type":"text","color":"white","font":"Liberation Sans","fontSize":11.5,"fontWeight":"bold","align":"center","baseline":"middle"},
"encoding":{"x":{"datum":533.7,"type":"quantitative","title":null},"y":{"field":"p","type":"quantitative","title":null},"text":{"field":"t"}}}]}
]},
{"width":1742,"height":159,
"layer":[
{"data":{"name":"candles"},
"mark":{"type":"bar","width":1.8},
"encoding":{"x":{"field":"i","type":"quantitative","scale":{"domain":[0,522],"nice":false,"zero":false},"axis":{"values":[12,36,60,84,108,132,156,180,204,228,252,276,300,324,348,372,396,420,444,468,492,516],"tickCount":60,"labelExpr":"['4月','2','3','4','5','8','9','10','11','12','15','16','17','18','19','22','23','24','25','26','29','30'][round((datum.value-12)/24)]","labelFont":"Liberation Sans, Noto Sans CJK SC","labelFontSize":12,"labelPadding":8,"tickSize":4,"grid":true,"domain":false,"title":"创建于 TradingView","titleFont":"Noto Sans CJK SC","titleFontSize":12,"titleFontWeight":"normal","titleColor":"#333333","titleX":-2,"titleY":50,"titleAlign":"left","titleAnchor":"start","titleBaseline":"middle"}},
"y":{"field":"v","type":"quantitative","scale":{"domain":[-61,1556],"nice":false,"zero":false},"axis":{"orient":"right","values":[0,400,800,1200],"format":".5f","grid":true,"domain":false,"tickSize":4,"labelPadding":4,"labelOverlap":false,"title":null}},
"y2":{"datum":0},
"color":{"condition":{"test":"datum.c >= datum.o","value":"#4343d6"},"value":"#e35a5a"}}},
{"data":{"name":"candles"},
"transform":[{"window":[{"op":"mean","field":"v","as":"ma"}],"frame":[-19,0],"sort":[{"field":"i"}]}],
"mark":{"type":"line","color":"#444444","strokeWidth":1},
"encoding":{"x":{"field":"i","type":"quantitative","title":null},"y":{"field":"ma","type":"quantitative","title":null}}},
{"data":{"values":[{"a":375,"b":522}]},
"mark":{"type":"rule","color":"#9a9a9a","strokeDash":[4,4]},
"encoding":{"x":{"field":"a","type":"quantitative","title":null},"x2":{"field":"b"},"y":{"datum":0,"type":"quantitative","title":null}}}
]}
],
"spacing":0
}
